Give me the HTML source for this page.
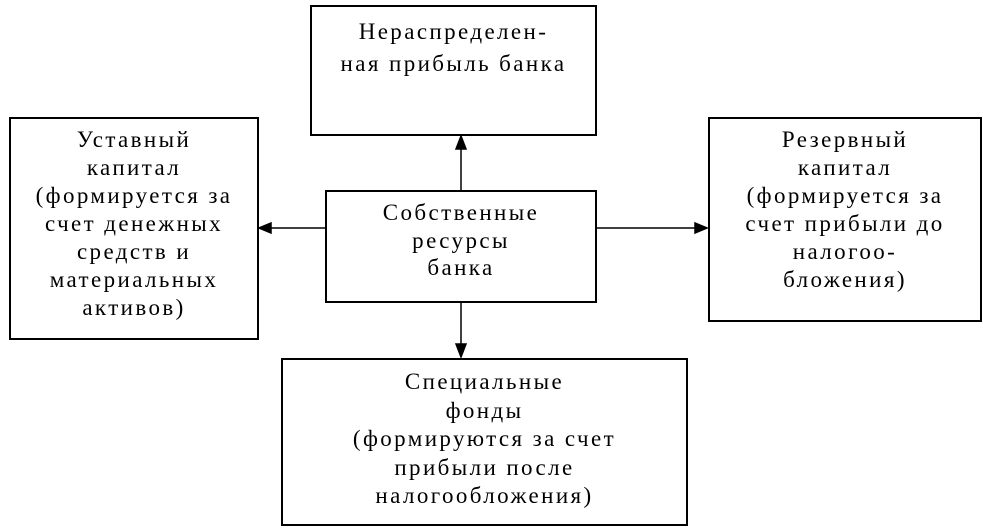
<!DOCTYPE html>
<html><head><meta charset="utf-8"><style>
body{margin:0;width:983px;height:530px;background:#fff;position:relative;overflow:hidden;font-family:"Liberation Serif","DejaVu Serif",serif;}
.b{position:absolute;border:2px solid #000;box-sizing:border-box;text-align:center;font-size:23px;line-height:28px;letter-spacing:2.4px;color:#000;white-space:nowrap;}
</style></head><body>
<div class="b" style="left:310px;top:5px;width:287px;height:131px;padding-top:9px;line-height:32px;">Нераспределен-<br>ная прибыль банка</div>
<div class="b" style="left:9px;top:117px;width:250px;height:223px;padding-top:7px;">Уставный<br>капитал<br>(формируется за<br>счет денежных<br>средств и<br>материальных<br>активов)</div>
<div class="b" style="left:325px;top:190px;width:272px;height:113px;padding-top:7px;line-height:27.5px;">Собственные<br>ресурсы<br>банка</div>
<div class="b" style="left:708px;top:117px;width:274px;height:205px;padding-top:7px;">Резервный<br>капитал<br>(формируется за<br>счет прибыли до<br>налогоо-<br>бложения)</div>
<div class="b" style="left:281px;top:358px;width:407px;height:168px;padding-top:8px;line-height:28.5px;">Специальные<br>фонды<br>(формируются за счет<br>прибыли после<br>налогообложения)</div>
<svg width="983" height="530" style="position:absolute;left:0;top:0">
<g stroke="#000" stroke-width="1.5" fill="#000">
<line x1="461" y1="190" x2="461" y2="142"/>
<polygon points="461,136 456,149 466,149"/>
<line x1="461" y1="303" x2="461" y2="350"/>
<polygon points="461,357 456,344 466,344"/>
<line x1="325" y1="228" x2="266" y2="228"/>
<polygon points="259,228 271,223 271,233"/>
<line x1="597" y1="228" x2="700" y2="228"/>
<polygon points="707,228 695,223 695,233"/>
</g></svg>
</body></html>
